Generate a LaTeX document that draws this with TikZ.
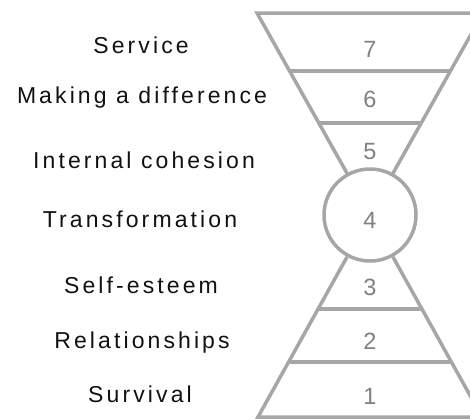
\documentclass[tikz,border=0pt]{standalone}
\usepackage{fontspec}
\setmainfont{Liberation Sans}[LetterSpace=13.5]
\newfontfamily\numfont{Liberation Sans}
\definecolor{linegrey}{HTML}{A6A6A6}
\definecolor{numgrey}{HTML}{808080}
\definecolor{labeltext}{HTML}{111111}
\begin{document}
\begin{tikzpicture}[x=1pt,y=-1pt,
  shapeline/.style={draw=linegrey, line width=3.5pt, line join=miter},
  lbl/.style={anchor=base, font=\fontsize{23}{27}\selectfont, text=labeltext, inner sep=0pt},
  num/.style={anchor=base, font=\numfont\fontsize{23.5}{28}\selectfont, text=numgrey, inner sep=0pt}]
\useasboundingbox (0,0) rectangle (470,418);
\clip (0,0) rectangle (470,418);
% upper funnel
\draw[shapeline] (348,175) -- (257,13) -- (483,13) -- (392,175);
\draw[shapeline] (289.6,71) -- (450.4,71);
\draw[shapeline] (318.9,123) -- (421.1,123);
% circle
\node[circle, draw=linegrey, line width=3.5pt, minimum size=92pt, inner sep=0pt] (c4) at (370,215) {};
% lower pyramid
\draw[shapeline] (347,257) -- (258,417) -- (482,417) -- (393,257);
\draw[shapeline] (318.1,309) -- (421.9,309);
\draw[shapeline] (288.6,362) -- (451.4,362);
% numbers
\node[num] (n7) at (370,57) {7};
\node[num] (n6) at (370,107) {6};
\node[num] (n5) at (370,159) {5};
\node[num] (n4) at (370,228) {4};
\node[num] (n3) at (370,295) {3};
\node[num] (n2) at (370,349) {2};
\node[num] (n1) at (370,404) {1};
% labels
\node[lbl] (l7) at (141,53) {Service};
\node[lbl] (l6) at (142,103) {Making a difference};
\node[lbl] (l5) at (144,168) {Internal cohesion};
\node[lbl] (l4) at (140,227) {Transformation};
\node[lbl] (l3) at (141,293) {Self-esteem};
\node[lbl] (l2) at (142,348) {Relationships};
\node[lbl] (l1) at (140,402) {Survival};
\end{tikzpicture}
\end{document}
